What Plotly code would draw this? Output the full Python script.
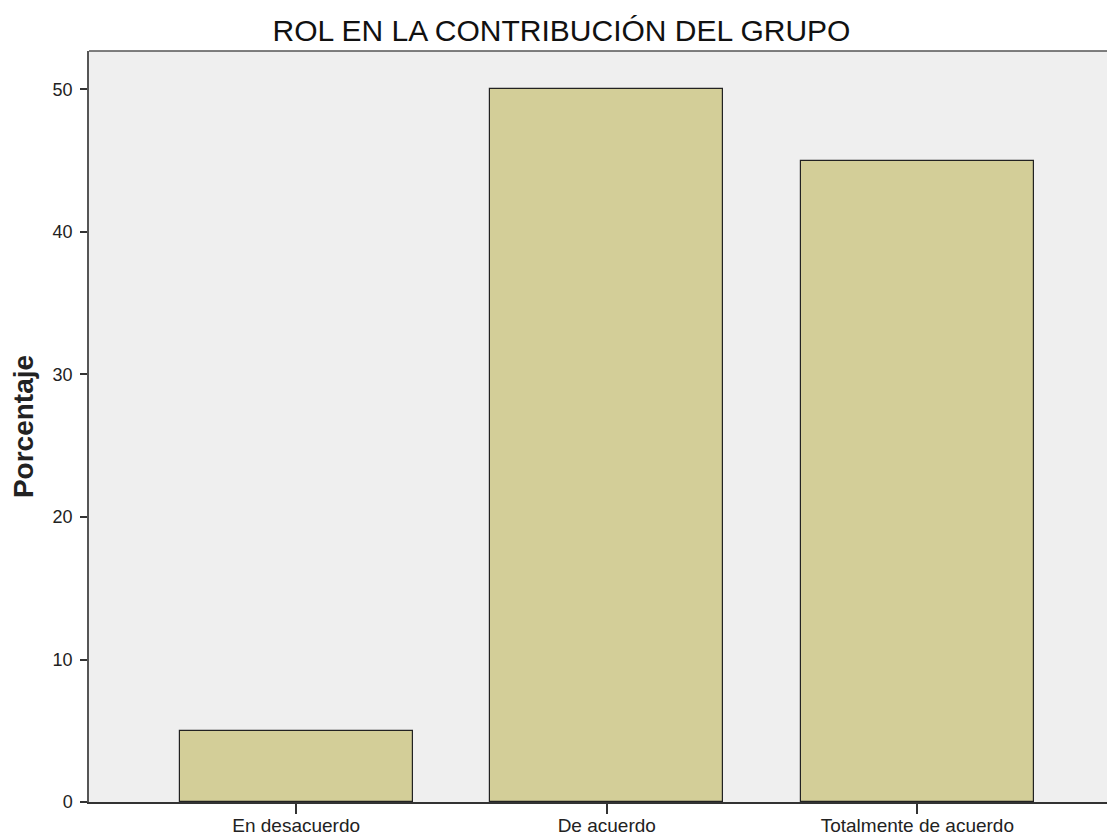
import plotly.graph_objects as go

categories = ["En desacuerdo", "De acuerdo", "Totalmente de acuerdo"]
percentages = [5, 50, 45]
y_ticks = [0, 10, 20, 30, 40, 50]

fig = go.Figure(go.Bar(
    x=categories, y=percentages, width=0.75,
    marker=dict(color="#D3CE98", line=dict(color="#222222", width=1.2)),
))

fig.update_layout(
    width=1107, height=829,
    margin=dict(l=81, r=2, t=43, b=35),
    paper_bgcolor="white", plot_bgcolor="#EFEFEF",
    font=dict(family="Liberation Sans, Arial", color="#222222"),
    title=dict(text="ROL EN LA CONTRIBUCIÓN DEL GRUPO", x=0.5, xanchor="center",
               xref="container", y=0.973, yanchor="middle",
               font=dict(size=30, color="#111111")),
    showlegend=False, bargap=0,
)
fig.update_xaxes(range=[-0.667, 2.63], showline=True, linecolor="#333333", linewidth=1.5,
                 ticks="outside", ticklen=10, tickcolor="#333333", tickwidth=1.5,
                 ticklabelstandoff=-5,
                 tickfont=dict(size=19), showgrid=False, mirror=False, automargin=False)
fig.update_yaxes(range=[0, 52.7], tickvals=y_ticks, showline=True, linecolor="#555555", linewidth=1.5,
                 ticks="outside", ticklen=7, tickcolor="#333333", tickwidth=1.5,
                 ticklabelstandoff=4, automargin=False,
                 tickfont=dict(size=18), showgrid=False, zeroline=False,
                 title=dict(text="<b>Porcentaje</b>", font=dict(size=28), standoff=14))
# top frame line
fig.add_shape(type="line", xref="paper", yref="paper", x0=0, x1=1, y0=1, y1=1,
              line=dict(color="#555555", width=1.5))

fig.write_html("out.html")
